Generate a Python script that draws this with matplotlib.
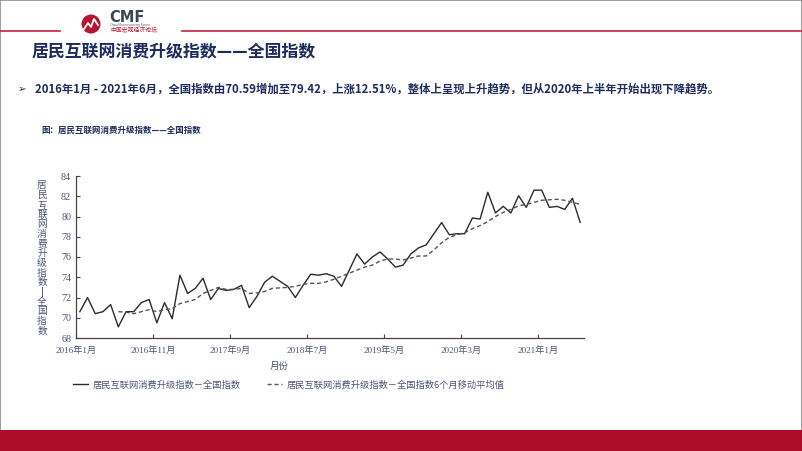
import numpy as np
import matplotlib.pyplot as plt
from matplotlib.patches import Ellipse, Rectangle
from matplotlib.lines import Line2D

plt.rcParams['font.family'] = ['Noto Sans CJK SC', 'DejaVu Sans']

# data (2016/1 .. 2021/6, monthly)
tick_labels = ['2016年1月', '2016年11月', '2017年9月', '2018年7月',
               '2019年5月', '2020年3月', '2021年1月']
index_vals = [70.6, 72.0, 70.4, 70.6, 71.3, 69.1, 70.6, 70.6, 71.5, 71.8,
              69.5, 71.5, 69.9, 74.2, 72.4, 72.9, 73.9, 71.8, 72.9, 72.7,
              72.8, 73.2, 71.0, 72.1, 73.5, 74.1, 73.6, 73.1, 72.0, 73.2,
              74.3, 74.2, 74.35, 74.1, 73.1, 74.7, 76.3, 75.3, 76.0, 76.5,
              75.8, 75.0, 75.2, 76.3, 76.9, 77.2, 78.3, 79.4, 78.2, 78.3,
              78.3, 79.85, 79.75, 82.4, 80.35, 81.0, 80.35, 82.05, 80.9, 82.6,
              82.6, 80.9, 81.0, 80.7, 81.8, 79.42]
# 6-month moving average, starts at 2016/6
ma_vals = [70.6, 70.55, 70.4, 70.6, 70.8, 70.6, 70.8, 70.9, 71.4, 71.6,
           71.8, 72.4, 72.7, 73.0, 72.8, 72.8, 72.9, 72.4, 72.45, 72.6,
           72.9, 72.95, 73.0, 73.1, 73.3, 73.4, 73.4, 73.55, 73.8, 74.1,
           74.4, 74.7, 75.0, 75.2, 75.6, 75.8, 75.8, 75.7, 75.9, 76.1,
           76.1, 76.7, 77.4, 77.95, 78.2, 78.4, 78.8, 79.1, 79.5, 80.0,
           80.4, 80.7, 81.05, 81.2, 81.4, 81.6, 81.65, 81.7, 81.6, 81.4, 81.2]

W, H = 802, 451
NAVY = '#1d2b5e'
AXTXT = '#4d5577'
RED = '#ad0c28'

fig = plt.figure(figsize=(W / 100, H / 100), dpi=100)


def fx(px):
    return px / W


def fy(py):
    return 1 - py / H


# frame, header lines and footer band
fig.patches.append(Rectangle((0, 0), 1, 1, transform=fig.transFigure, fill=False,
                             edgecolor='#8a8a8a', lw=1.2))
fig.add_artist(Line2D([0, fx(60)], [fy(31), fy(31)], color='#c0283c', lw=1.2))
fig.add_artist(Line2D([fx(182), 1], [fy(31), fy(31)], color='#c0283c', lw=1.2))
fig.patches.append(Rectangle((0, 0), 1, fy(430), transform=fig.transFigure,
                             facecolor=RED, edgecolor='none'))

# logo
fig.patches.append(Ellipse((fx(91), fy(24)), 19 / W, 19 / H, transform=fig.transFigure,
                           facecolor='#b5162f', edgecolor='none'))
fig.add_artist(Line2D([fx(84), fx(88), fx(91), fx(94), fx(98)],
                      [fy(29), fy(23), fy(27), fy(19), fy(25)], color='white', lw=1.3))
fig.text(fx(109), fy(17), 'CMF', fontsize=10.5, fontweight='bold', color='#3b4758',
         va='center', ha='left', family=['DejaVu Sans'])
fig.text(fx(110), fy(25), 'China Macroeconomy Forum', fontsize=2.2, color='#555555',
         va='center', ha='left')
fig.text(fx(110), fy(30), '中国宏观经济论坛', fontsize=4.2, color='#b5162f',
         va='center', ha='left')

# title, bullet, caption
fig.text(fx(32), fy(52), '居民互联网消费升级指数——全国指数', fontsize=12.2,
         fontweight='bold', color=NAVY, va='center', ha='left')
fig.text(fx(18), fy(89), '➢', fontsize=7.5, color=NAVY, va='center', ha='left',
         family=['DejaVu Sans'])
fig.text(fx(35), fy(89),
         '2016年1月 - 2021年6月，全国指数由70.59增加至79.42，上涨12.51%，'
         '整体上呈现上升趋势，但从2020年上半年开始出现下降趋势。',
         fontsize=8.2, fontweight='bold', color=NAVY, va='center', ha='left')
fig.text(fx(41), fy(130), '图：居民互联网消费升级指数——全国指数', fontsize=6.1,
         fontweight='bold', color=NAVY, va='center', ha='left')

# chart
ax = fig.add_axes([fx(76), fy(338), fx(584) - fx(76), fy(176) - fy(338)])
x = np.arange(len(index_vals))
ax.plot(x, index_vals, color='#2b2b2b', lw=1.0, label='居民互联网消费升级指数－全国指数')
ax.plot(np.arange(5, 5 + len(ma_vals)), ma_vals, color='#555555', lw=1.0,
        dashes=(3, 2), label='居民互联网消费升级指数－全国指数6个月移动平均值')

ax.set_xlim(-0.5, len(index_vals) - 0.5)
ax.set_ylim(68, 84)
ax.set_yticks(np.arange(68, 85, 2))
ax.set_xticks(np.arange(len(tick_labels)) * 10 - 0.5)
ax.set_xticklabels(tick_labels)
for s in ['top', 'right']:
    ax.spines[s].set_visible(False)
for s in ['left', 'bottom']:
    ax.spines[s].set_color('#444444')
    ax.spines[s].set_linewidth(0.9)
ax.tick_params(direction='in', length=3, width=0.8, color='#444444',
               labelcolor=AXTXT, labelsize=7.3)
ax.tick_params(axis='x', pad=6, labelsize=6.6)
for lab in ax.get_xticklabels() + ax.get_yticklabels():
    lab.set_family(['Liberation Serif', 'Noto Sans CJK SC'])

fig.text(fx(279), fy(366), '月份', fontsize=6.8, color=AXTXT, ha='center', va='center')
ylab = '居民互联网消费升级指数ǀ全国指数'
fig.text(fx(42), fy(258), '\n'.join(ylab), fontsize=7, color=AXTXT,
         ha='center', va='center', linespacing=0.96)

leg = fig.legend(loc='center left', bbox_to_anchor=(fx(65), fy(385)), ncol=2,
                 frameon=False, fontsize=6.7, handlelength=1.6, handletextpad=0.45,
                 columnspacing=2.9)
for t in leg.get_texts():
    t.set_color(AXTXT)

fig.savefig('out.png', dpi=100)
